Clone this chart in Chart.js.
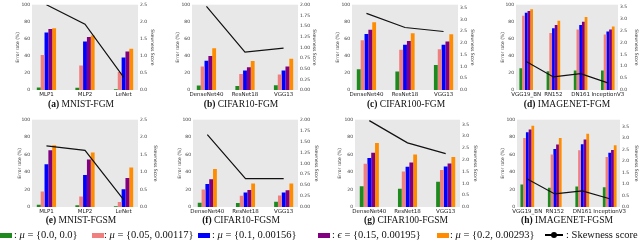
<!DOCTYPE html>
<html>
<head>
<meta charset="utf-8">
<script src="https://cdn.jsdelivr.net/npm/chart.js@4.4.1/dist/chart.umd.min.js"></script>
<style>
  body { margin: 0; background: #fff; }
  #wrap { position: relative; width: 640px; height: 243px; overflow: hidden; }
  canvas { position: absolute; }
  .cap { position: absolute; width: 160px; text-align: center; font: 9.5px "Liberation Serif", serif; color: #111; white-space: nowrap; }
  .cap b { font-weight: bold; }
  .leg { position: absolute; top: 229px; font: 10.5px "Liberation Serif", serif; color: #111; white-space: nowrap; }
  .sw { position: absolute; top: 233px; width: 12px; height: 5px; }
</style>
</head>
<body>
<div id="wrap"></div>
<script>
// series colours, same order as the legend
var colours = ['#1e8a1e', '#f08080', '#0000ff', '#800080', '#ff8c00'];

var mnistCats = ['MLP1', 'MLP2', 'LeNet'];
var cifarCats = ['DenseNet40', 'ResNet18', 'VGG13'];
var imagenetCats = ['VGG19_BN', 'RN152', 'DN161', 'InceptionV3'];

// error rates (%), one array per series
var mnistFgm = [[3, 2.5, 1], [41, 28.6, 21], [67.5, 57, 38], [71.4, 62, 45], [72.5, 64, 48.5]];
var cifar10Fgm = [[5.3, 4.6, 5.7], [27.5, 18.7, 18.3], [34.4, 23, 23], [40, 26.7, 27.5], [49, 34, 36.6]];
var cifar100Fgm = [[24.4, 21.8, 29.4], [58.4, 47.3, 47.7], [65.6, 53, 53], [70.6, 57.3, 57], [79.4, 66.4, 65.3]];
var imagenetFgm = [[25.6, 22, 23, 23], [87, 66.8, 71, 65], [90.5, 72.5, 76.3, 68.7], [92.7, 76.3, 80, 71], [94.7, 81.3, 85.5, 74.4]];
var mnistFgsm = [[2.6, 1.9, 0.8], [17.7, 12, 5.7], [49, 36.6, 20.4], [65, 54.3, 33.2], [70.6, 62.3, 45.3]];
var cifar10Fgsm = [[4.9, 4.5, 6], [20, 12.8, 13.2], [26.4, 16.6, 16.6], [31.7, 19.6, 19.2], [43.4, 26.8, 26.8]];
var cifar100Fgsm = [[23.8, 21, 29], [49.4, 40.8, 42.3], [56.2, 46, 46.4], [62, 51, 49.8], [73.2, 60, 57.4]];
var imagenetFgsm = [[25.7, 22, 23.4, 22.6], [79, 60, 65, 57.4], [85.7, 66.4, 72, 62], [88.7, 71.7, 77.4, 65.3], [93.2, 79, 84, 70.6]];

// skewness score (right axis)
var skewMnistFgm = [2.5, 1.93, 0.38];
var skewCifar10Fgm = [1.96, 0.89, 0.98];
var skewCifar100Fgm = [3.26, 2.66, 2.49];
var skewImagenetFgm = [1.2, 0.55, 0.69, 0.3];
var skewMnistFgsm = [1.75, 1.62, 0.21];
var skewCifar10Fgsm = [1.66, 0.65, 0.65];
var skewCifar100Fgsm = [3.66, 2.72, 2.26];
var skewImagenetFgsm = [1.22, 0.57, 0.7, 0.36];

// pl/pr: plot edges inside the 160px panel, tl/tr: axis title centres, cx: caption centre
// pb: plot bottom inside the canvas
var panels = [
  {cap: '(a)', name: 'MNIST-FGM', cats: mnistCats, err: mnistFgm, skew: skewMnistFgm, skewMax: 2.5, skewStep: 0.5, dec: 1, left: 0, top: 0, pb: 90, pl: 32, pr: 138, tl: 18, tr: 152, cx: 81},
  {cap: '(b)', name: 'CIFAR10-FGM', cats: cifarCats, err: cifar10Fgm, skew: skewCifar10Fgm, skewMax: 2.0, skewStep: 0.25, dec: 2, left: 160, top: 0, pb: 90, pl: 32, pr: 138, tl: 18, tr: 154, cx: 81},
  {cap: '(c)', name: 'CIFAR100-FGM', cats: cifarCats, err: cifar100Fgm, skew: skewCifar100Fgm, skewMax: 3.63, skewStep: 0.5, dec: 1, left: 320, top: 0, pb: 90, pl: 32, pr: 138, tl: 18, tr: 152, cx: 86},
  {cap: '(d)', name: 'IMAGENET-FGM', cats: imagenetCats, err: imagenetFgm, skew: skewImagenetFgm, skewMax: 3.6, skewStep: 0.5, dec: 1, left: 480, top: 0, pb: 90, pl: 36, pr: 138, tl: 23, tr: 156, cx: 87},
  {cap: '(e)', name: 'MNIST-FGSM', cats: mnistCats, err: mnistFgsm, skew: skewMnistFgsm, skewMax: 2.5, skewStep: 0.5, dec: 1, left: 0, top: 115, pb: 92, pl: 32, pr: 138, tl: 20, tr: 155, cx: 81},
  {cap: '(f)', name: 'CIFAR10-FGSM', cats: cifarCats, err: cifar10Fgsm, skew: skewCifar10Fgsm, skewMax: 2.0, skewStep: 0.25, dec: 2, left: 160, top: 115, pb: 92, pl: 33, pr: 138, tl: 20, tr: 156, cx: 81},
  {cap: '(g)', name: 'CIFAR100-FGSM', cats: cifarCats, err: cifar100Fgsm, skew: skewCifar100Fgsm, skewMax: 3.7, skewStep: 0.5, dec: 1, left: 320, top: 115, pb: 92, pl: 35, pr: 140, tl: 20, tr: 155, cx: 86},
  {cap: '(h)', name: 'IMAGENET-FGSM', cats: imagenetCats, err: imagenetFgsm, skew: skewImagenetFgsm, skewMax: 3.8, skewStep: 0.5, dec: 1, left: 480, top: 115, pb: 92, pl: 37, pr: 140, tl: 23, tr: 156, cx: 87}
];

// grey plot background
var bgPlugin = {
  id: 'plotBg',
  beforeDraw: function(chart) {
    var a = chart.chartArea, c = chart.ctx;
    c.save();
    c.fillStyle = '#e8e8e8';
    c.fillRect(a.left, a.top, a.right - a.left, a.bottom - a.top);
    c.restore();
  }
};

var wrap = document.getElementById('wrap');
var tickFont = {family: 'DejaVu Sans', size: 4.5};
var noGrid = {display: false, drawTicks: false, tickLength: 0};
var canvasH = 101;

panels.forEach(function(p) {
  var cv = document.createElement('canvas');
  cv.width = 160; cv.height = canvasH;
  cv.style.left = p.left + 'px';
  cv.style.top = p.top + 'px';
  wrap.appendChild(cv);

  var lpad = Math.max(0, p.tl - 3.5);
  var rpad = Math.max(0, 160 - p.tr - 3.5);

  var datasets = [{
    type: 'line',
    data: p.skew.map(function(v, i) { return {x: i, y: v}; }),
    yAxisID: 'y1',
    borderColor: '#111',
    borderWidth: 1.2,
    pointRadius: 0,
    order: 0
  }];
  p.err.forEach(function(vals, s) {
    datasets.push({
      type: 'bar',
      data: vals.map(function(v, i) { return {x: i, y: v}; }),
      yAxisID: 'y',
      backgroundColor: colours[s],
      borderWidth: 0,
      categoryPercentage: 0.5,
      barPercentage: 1,
      order: 1
    });
  });

  var n = p.cats.length;
  new Chart(cv.getContext('2d'), {
    type: 'bar',
    data: {datasets: datasets},
    options: {
      responsive: false,
      animation: false,
      layout: {padding: {top: 3, left: lpad, right: rpad, bottom: 0}},
      plugins: {legend: {display: false}, tooltip: {enabled: false}},
      scales: {
        x: {
          type: 'linear',
          position: 'bottom',
          offset: false,
          min: -0.375,
          max: n - 1 + 0.375,
          grid: noGrid,
          border: {display: false},
          afterFit: function(scale) { scale.height = canvasH - p.pb; },
          ticks: {
            stepSize: 1, includeBounds: false,
            autoSkip: false, maxRotation: 0, padding: 1, color: '#222',
            font: {family: 'DejaVu Sans', size: 5.5},
            callback: function(v) { return Number.isInteger(v) ? p.cats[v] : ''; }
          }
        },
        y: {
          position: 'left',
          min: 0, max: 100,
          grid: noGrid,
          border: {display: false},
          afterFit: function(scale) { scale.width = p.pl - lpad; },
          ticks: {stepSize: 20, padding: 2, color: '#333', font: tickFont},
          title: {display: true, text: 'Error rate (%)', color: '#333', font: tickFont, padding: 1}
        },
        y1: {
          position: 'right',
          min: 0, max: p.skewMax,
          grid: noGrid,
          border: {display: false},
          afterFit: function(scale) { scale.width = 160 - rpad - p.pr; },
          afterBuildTicks: function(scale) {
            var t = [];
            for (var v = 0; v <= p.skewMax + 1e-9; v += p.skewStep) t.push({value: v});
            scale.ticks = t;
          },
          ticks: {padding: 2, color: '#333', font: tickFont,
            callback: function(v) { return v.toFixed(p.dec); }},
          title: {display: true, text: 'Skewness Score', color: '#333', font: tickFont, padding: 1}
        }
      }
    },
    plugins: [bgPlugin]
  });

  var cap = document.createElement('div');
  cap.className = 'cap';
  cap.style.left = (p.left + p.cx - 80) + 'px';
  cap.style.top = (p.top ? 215 : 99) + 'px';
  cap.innerHTML = '<b>' + p.cap + '</b> ' + p.name;
  wrap.appendChild(cap);
});

// legend row
var legendItems = [
  {sw: colours[0], x: 0, tx: 14, text: ': <i>μ</i> = {0.0, 0.0}'},
  {sw: colours[1], x: 92, tx: 104, text: ': <i>μ</i> = {0.05, 0.00117}'},
  {sw: colours[2], x: 198, tx: 212, text: ': <i>μ</i> = {0.1, 0.00156}'},
  {sw: colours[3], x: 318, tx: 332, text: ': <i>ϵ</i> = {0.15, 0.00195}'},
  {sw: colours[4], x: 437, tx: 450, text: ': <i>μ</i> = {0.2, 0.00293}'},
  {sw: null, x: 545, tx: 566, text: ': Skewness score'}
];
legendItems.forEach(function(it) {
  if (it.sw) {
    var s = document.createElement('div');
    s.className = 'sw';
    s.style.left = it.x + 'px';
    s.style.background = it.sw;
    wrap.appendChild(s);
  } else {
    var l = document.createElement('div');
    l.style.cssText = 'position:absolute;top:234px;height:2px;width:18px;background:#000;left:' + it.x + 'px';
    wrap.appendChild(l);
    var d = document.createElement('div');
    d.style.cssText = 'position:absolute;top:232px;width:6px;height:6px;border-radius:3px;background:#000;left:' + (it.x + 6) + 'px';
    wrap.appendChild(d);
  }
  var t = document.createElement('div');
  t.className = 'leg';
  t.style.left = it.tx + 'px';
  t.innerHTML = it.text;
  wrap.appendChild(t);
});
</script>
</body>
</html>
